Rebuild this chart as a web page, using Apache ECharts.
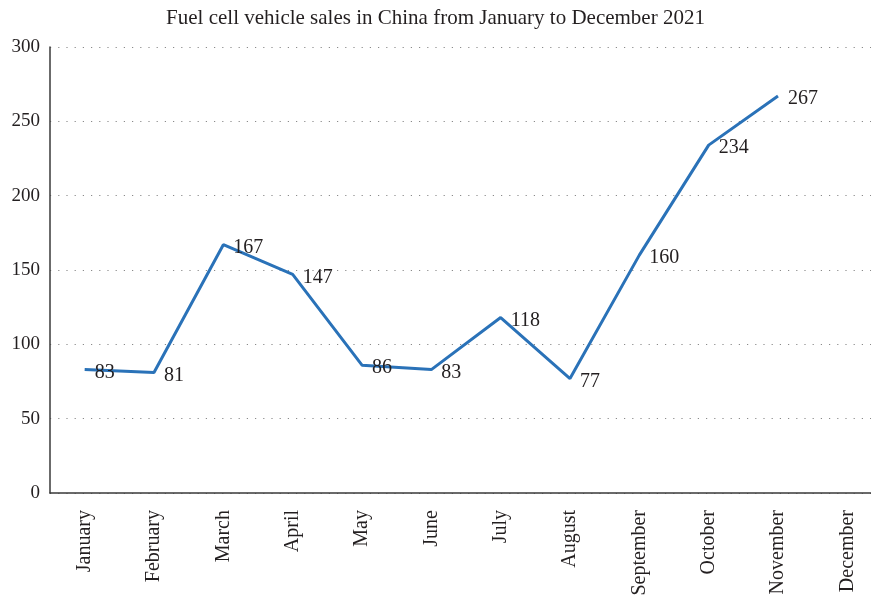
<!DOCTYPE html>
<html>
<head>
<meta charset="utf-8">
<script src="https://cdn.jsdelivr.net/npm/echarts@6/dist/echarts.min.js"></script>
<style>
  html, body { margin: 0; padding: 0; background: #fff; }
  #chart { width: 871px; height: 601px; }
</style>
</head>
<body>
<div id="chart"></div>
<script>
const months = ["January", "February", "March", "April", "May", "June", "July",
  "August", "September", "October", "November", "December"];
const sales = [83, 81, 167, 147, 86, 83, 118, 77, 160, 234, 267, null];
const yTicks = [0, 50, 100, 150, 200, 250, 300];

const font = "'Liberation Serif', 'DejaVu Serif', serif";
const myChart = echarts.init(document.getElementById("chart"));

const option = {
  backgroundColor: "#fff",
  animation: false,
  title: {
    text: "Fuel cell vehicle sales in China from January to December 2021",
    left: "center",
    top: 3,
    textStyle: { fontFamily: font, fontSize: 21, fontWeight: "normal", color: "#231f20" }
  },
  // plot runs past the right edge of the canvas, like the original
  grid: { left: 50, width: 832, top: 47, bottom: 108, containLabel: false, outerBoundsMode: "none" },
  xAxis: {
    type: "category",
    data: months,
    boundaryGap: true,
    axisLine: { lineStyle: { color: "#3a3a3a", width: 1.5 } },
    axisTick: { show: false },
    axisLabel: {
      rotate: 90,
      interval: 0,
      margin: 17,
      color: "#231f20",
      fontFamily: font,
      fontSize: 20
    }
  },
  yAxis: {
    type: "value",
    min: yTicks[0],
    max: yTicks[yTicks.length - 1],
    interval: 50,
    axisLine: { show: true, lineStyle: { color: "#3a3a3a", width: 1.5 } },
    axisTick: { show: false },
    axisLabel: { margin: 10, color: "#231f20", fontFamily: font, fontSize: 19 },
    splitLine: { show: true, lineStyle: { color: "#8a8a8a", width: 1.2, type: [1.2, 7] } }
  },
  series: [
    {
      type: "line",
      data: sales,
      showSymbol: true,
      symbol: "circle",
      symbolSize: 0,
      lineStyle: { color: "#2a72b8", width: 3 },
      itemStyle: { color: "#2a72b8" },
      label: {
        show: true,
        position: "right",
        distance: 10,
        offset: [0, 3],
        color: "#231f20",
        fontFamily: font,
        fontSize: 20
      }
    }
  ]
};

myChart.setOption(option);
</script>
</body>
</html>
